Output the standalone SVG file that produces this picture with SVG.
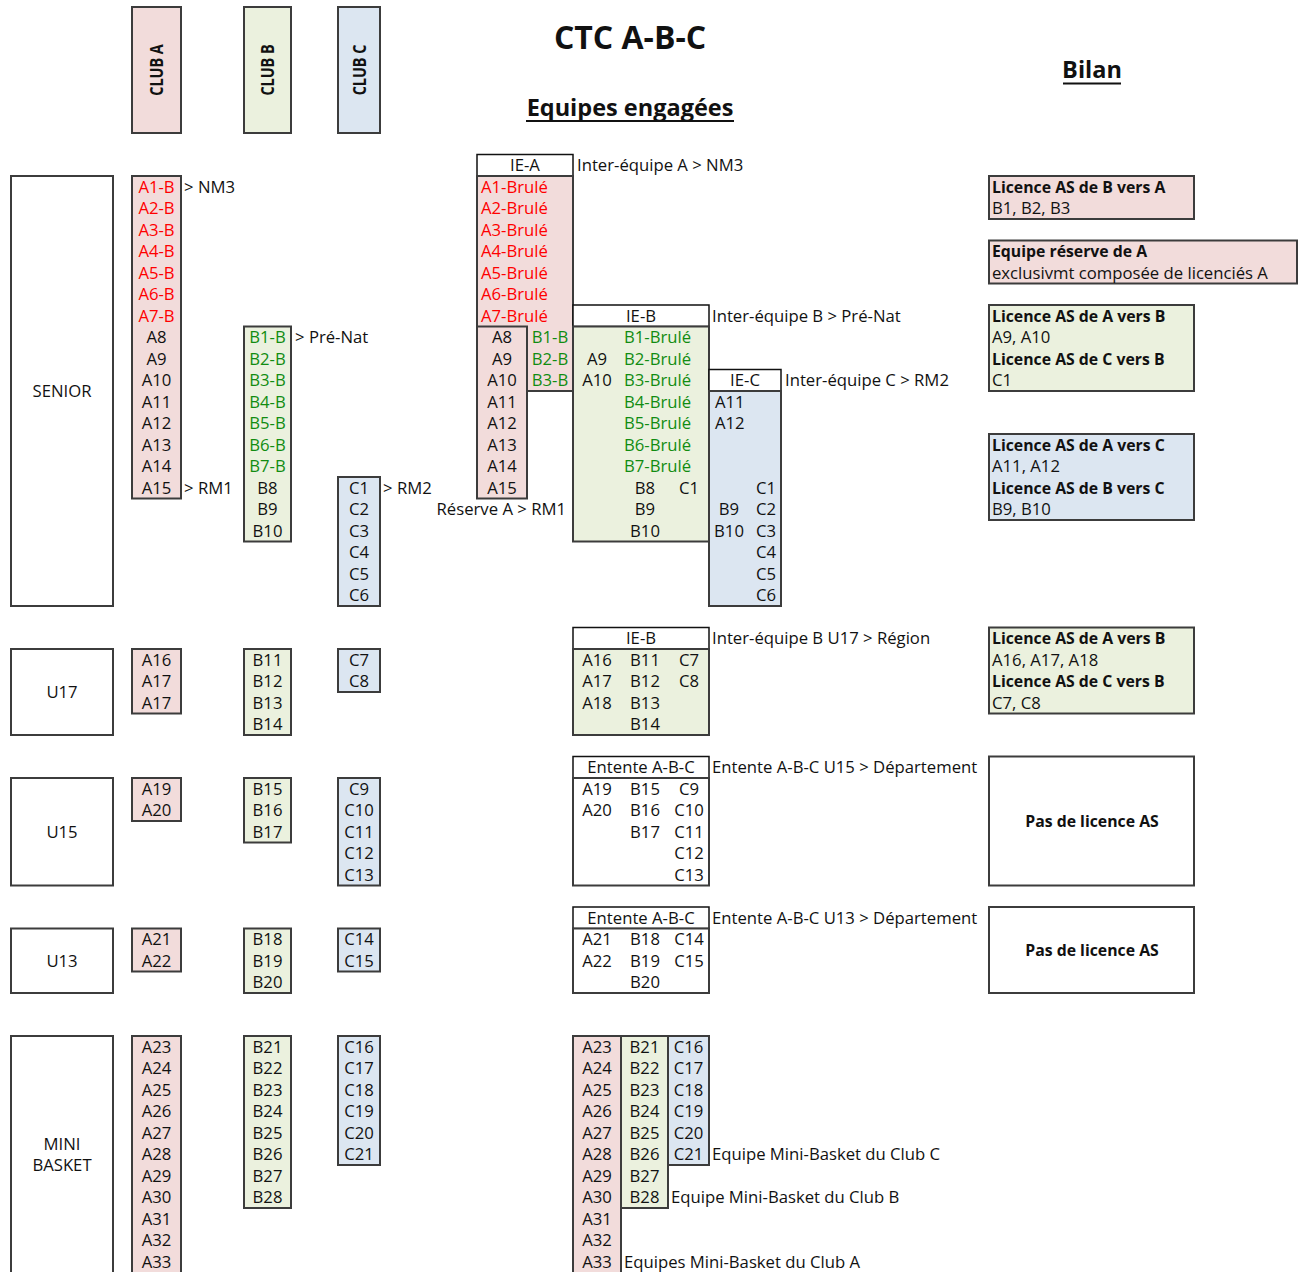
<svg xmlns="http://www.w3.org/2000/svg" width="1306" height="1272" viewBox="0 0 1306 1272">
<style>
text{font-family:"Open Sans","Liberation Sans",sans-serif;font-size:16.7px;fill:#111}
.c{text-anchor:middle}
.e{text-anchor:end}
.r{fill:#FF0000}
.g{fill:#118C11}
.b{font-weight:bold;font-size:15.8px}
.pk{fill:#F2DCDB;stroke:#3c3c3c;stroke-width:2}
.gr{fill:#EBF1DE;stroke:#3c3c3c;stroke-width:2}
.bl{fill:#DCE6F1;stroke:#3c3c3c;stroke-width:2}
.wh{fill:#FFFFFF;stroke:#3c3c3c;stroke-width:2}
.hd{fill:#FFFFFF;stroke:#111;stroke-width:1.5}
.ln{fill:none;stroke:#3c3c3c;stroke-width:2}
.title{font-weight:bold;font-size:32px}
.sub{font-weight:bold;font-size:23.5px}
.club{font-weight:bold;font-size:18px}
</style>

<g id="titles">
<text class="title c" x="630" y="49">CTC A-B-C</text>
<text class="sub c" x="630" y="116">Equipes engagées</text>
<line x1="526" y1="121" x2="734" y2="121" stroke="#111" stroke-width="2"/>
<text class="sub c" x="1092" y="78">Bilan</text>
<line x1="1063" y1="83.5" x2="1121" y2="83.5" stroke="#111" stroke-width="2"/>
</g>

<g id="club-a-header">
<rect class="pk" x="132" y="7" width="49" height="126"/>
<text class="club c" transform="translate(163,70) rotate(-90) scale(0.8,1)">CLUB A</text>
</g>
<g id="club-b-header">
<rect class="gr" x="244" y="7" width="47" height="126"/>
<text class="club c" transform="translate(274,70) rotate(-90) scale(0.8,1)">CLUB B</text>
</g>
<g id="club-c-header">
<rect class="bl" x="338" y="7" width="42" height="126"/>
<text class="club c" transform="translate(366,70) rotate(-90) scale(0.8,1)">CLUB C</text>
</g>

<g id="cat-senior">
<rect class="wh" x="11" y="176" width="102" height="430"/>
<text class="c" x="62" y="397">SENIOR</text>
</g>
<g id="cat-u17">
<rect class="wh" x="11" y="649" width="102" height="86"/>
<text class="c" x="62" y="698">U17</text>
</g>
<g id="cat-u15">
<rect class="wh" x="11" y="778" width="102" height="107.5"/>
<text class="c" x="62" y="838">U15</text>
</g>
<g id="cat-u13">
<rect class="wh" x="11" y="928.5" width="102" height="64.5"/>
<text class="c" x="62" y="967">U13</text>
</g>
<g id="cat-mini">
<rect class="wh" x="11" y="1036" width="102" height="260"/>
<text class="c" x="62" y="1150">MINI</text>
<text class="c" x="62" y="1171">BASKET</text>
</g>

<g id="senior-a">
<rect class="pk" x="132" y="176" width="49" height="322.5"/>
<text class="c r" x="156.5" y="192.6">A1-B</text>
<text class="c r" x="156.5" y="214.1">A2-B</text>
<text class="c r" x="156.5" y="235.6">A3-B</text>
<text class="c r" x="156.5" y="257.1">A4-B</text>
<text class="c r" x="156.5" y="278.6">A5-B</text>
<text class="c r" x="156.5" y="300.1">A6-B</text>
<text class="c r" x="156.5" y="321.6">A7-B</text>
<text class="c" x="156.5" y="343.1">A8</text>
<text class="c" x="156.5" y="364.6">A9</text>
<text class="c" x="156.5" y="386.1">A10</text>
<text class="c" x="156.5" y="407.6">A11</text>
<text class="c" x="156.5" y="429.1">A12</text>
<text class="c" x="156.5" y="450.6">A13</text>
<text class="c" x="156.5" y="472.1">A14</text>
<text class="c" x="156.5" y="493.6">A15</text>
<text x="184" y="192.6">&gt; NM3</text>
<text x="184" y="493.6">&gt; RM1</text>
</g>
<g id="senior-b">
<rect class="gr" x="244" y="326.5" width="47" height="215"/>
<text class="c g" x="267.5" y="343.1">B1-B</text>
<text class="c g" x="267.5" y="364.6">B2-B</text>
<text class="c g" x="267.5" y="386.1">B3-B</text>
<text class="c g" x="267.5" y="407.6">B4-B</text>
<text class="c g" x="267.5" y="429.1">B5-B</text>
<text class="c g" x="267.5" y="450.6">B6-B</text>
<text class="c g" x="267.5" y="472.1">B7-B</text>
<text class="c" x="267.5" y="493.6">B8</text>
<text class="c" x="267.5" y="515.1">B9</text>
<text class="c" x="267.5" y="536.6">B10</text>
<text x="295" y="343.1">&gt; Pré-Nat</text>
</g>
<g id="senior-c">
<rect class="bl" x="338" y="477" width="42" height="129"/>
<text class="c" x="359" y="493.6">C1</text>
<text class="c" x="359" y="515.1">C2</text>
<text class="c" x="359" y="536.6">C3</text>
<text class="c" x="359" y="558.1">C4</text>
<text class="c" x="359" y="579.6">C5</text>
<text class="c" x="359" y="601.1">C6</text>
<text x="383" y="493.6">&gt; RM2</text>
</g>

<g id="ie-a">
<rect class="hd" x="477" y="154.5" width="96" height="21.5"/>
<text class="c" x="525" y="171.1">IE-A</text>
<polygon class="pk" points="477,176 573,176 573,391 527,391 527,498.5 477,498.5"/>
<polyline class="ln" points="477,326.5 527,326.5 527,391"/>
<text class="r" x="481" y="192.6">A1-Brulé</text>
<text class="r" x="481" y="214.1">A2-Brulé</text>
<text class="r" x="481" y="235.6">A3-Brulé</text>
<text class="r" x="481" y="257.1">A4-Brulé</text>
<text class="r" x="481" y="278.6">A5-Brulé</text>
<text class="r" x="481" y="300.1">A6-Brulé</text>
<text class="r" x="481" y="321.6">A7-Brulé</text>
<text class="c" x="502" y="343.1">A8</text>
<text class="c" x="502" y="364.6">A9</text>
<text class="c" x="502" y="386.1">A10</text>
<text class="c" x="502" y="407.6">A11</text>
<text class="c" x="502" y="429.1">A12</text>
<text class="c" x="502" y="450.6">A13</text>
<text class="c" x="502" y="472.1">A14</text>
<text class="c" x="502" y="493.6">A15</text>
<text class="c g" x="550" y="343.1">B1-B</text>
<text class="c g" x="550" y="364.6">B2-B</text>
<text class="c g" x="550" y="386.1">B3-B</text>
<text x="577" y="171.1">Inter-équipe A &gt; NM3</text>
<text class="e" x="566" y="515.1">Réserve A &gt; RM1</text>
</g>

<g id="ie-b">
<rect class="hd" x="573" y="305" width="136" height="21.5"/>
<text class="c" x="641" y="321.6">IE-B</text>
<rect class="gr" x="573" y="326.5" width="136" height="215"/>
<text class="g" x="624" y="343.1">B1-Brulé</text>
<text class="g" x="624" y="364.6">B2-Brulé</text>
<text class="g" x="624" y="386.1">B3-Brulé</text>
<text class="g" x="624" y="407.6">B4-Brulé</text>
<text class="g" x="624" y="429.1">B5-Brulé</text>
<text class="g" x="624" y="450.6">B6-Brulé</text>
<text class="g" x="624" y="472.1">B7-Brulé</text>
<text class="c" x="597" y="364.6">A9</text>
<text class="c" x="597" y="386.1">A10</text>
<text class="c" x="645" y="493.6">B8</text>
<text class="c" x="689" y="493.6">C1</text>
<text class="c" x="645" y="515.1">B9</text>
<text class="c" x="645" y="536.6">B10</text>
<text x="712" y="321.6">Inter-équipe B &gt; Pré-Nat</text>
</g>

<g id="ie-c">
<rect class="hd" x="709" y="369.5" width="72" height="21.5"/>
<text class="c" x="745" y="386.1">IE-C</text>
<rect class="bl" x="709" y="391" width="72" height="215"/>
<text x="715" y="407.6">A11</text>
<text x="715" y="429.1">A12</text>
<text class="c" x="766" y="493.6">C1</text>
<text class="c" x="729" y="515.1">B9</text>
<text class="c" x="766" y="515.1">C2</text>
<text class="c" x="729" y="536.6">B10</text>
<text class="c" x="766" y="536.6">C3</text>
<text class="c" x="766" y="558.1">C4</text>
<text class="c" x="766" y="579.6">C5</text>
<text class="c" x="766" y="601.1">C6</text>
<text x="785" y="386.1">Inter-équipe C &gt; RM2</text>
</g>

<g id="bilan-1">
<rect class="pk" x="989" y="176" width="205" height="43"/>
<text class="b" x="992" y="192.6">Licence AS de B vers A</text>
<text x="992" y="214.1">B1, B2, B3</text>
</g>
<g id="bilan-2">
<rect class="pk" x="989" y="240.5" width="308" height="43"/>
<text class="b" x="992" y="257.1">Equipe réserve de A</text>
<text x="992" y="278.6">exclusivmt composée de licenciés A</text>
</g>
<g id="bilan-3">
<rect class="gr" x="989" y="305" width="205" height="86"/>
<text class="b" x="992" y="321.6">Licence AS de A vers B</text>
<text x="992" y="343.1">A9, A10</text>
<text class="b" x="992" y="364.6">Licence AS de C vers B</text>
<text x="992" y="386.1">C1</text>
</g>
<g id="bilan-4">
<rect class="bl" x="989" y="434" width="205" height="86"/>
<text class="b" x="992" y="450.6">Licence AS de A vers C</text>
<text x="992" y="472.1">A11, A12</text>
<text class="b" x="992" y="493.6">Licence AS de B vers C</text>
<text x="992" y="515.1">B9, B10</text>
</g>

<g id="u17-a">
<rect class="pk" x="132" y="649" width="49" height="64.5"/>
<text class="c" x="156.5" y="665.6">A16</text>
<text class="c" x="156.5" y="687.1">A17</text>
<text class="c" x="156.5" y="708.6">A17</text>
</g>
<g id="u17-b">
<rect class="gr" x="244" y="649" width="47" height="86"/>
<text class="c" x="267.5" y="665.6">B11</text>
<text class="c" x="267.5" y="687.1">B12</text>
<text class="c" x="267.5" y="708.6">B13</text>
<text class="c" x="267.5" y="730.1">B14</text>
</g>
<g id="u17-c">
<rect class="bl" x="338" y="649" width="42" height="43"/>
<text class="c" x="359" y="665.6">C7</text>
<text class="c" x="359" y="687.1">C8</text>
</g>
<g id="ie-b-u17">
<rect class="hd" x="573" y="627.5" width="136" height="21.5"/>
<text class="c" x="641" y="644.1">IE-B</text>
<rect class="gr" x="573" y="649" width="136" height="86"/>
<text class="c" x="597" y="665.6">A16</text>
<text class="c" x="645" y="665.6">B11</text>
<text class="c" x="689" y="665.6">C7</text>
<text class="c" x="597" y="687.1">A17</text>
<text class="c" x="645" y="687.1">B12</text>
<text class="c" x="689" y="687.1">C8</text>
<text class="c" x="597" y="708.6">A18</text>
<text class="c" x="645" y="708.6">B13</text>
<text class="c" x="645" y="730.1">B14</text>
<text x="712" y="644.1">Inter-équipe B U17 &gt; Région</text>
</g>
<g id="bilan-u17">
<rect class="gr" x="989" y="627.5" width="205" height="86"/>
<text class="b" x="992" y="644.1">Licence AS de A vers B</text>
<text x="992" y="665.6">A16, A17, A18</text>
<text class="b" x="992" y="687.1">Licence AS de C vers B</text>
<text x="992" y="708.6">C7, C8</text>
</g>

<g id="u15-a">
<rect class="pk" x="132" y="778" width="49" height="43"/>
<text class="c" x="156.5" y="794.6">A19</text>
<text class="c" x="156.5" y="816.1">A20</text>
</g>
<g id="u15-b">
<rect class="gr" x="244" y="778" width="47" height="64.5"/>
<text class="c" x="267.5" y="794.6">B15</text>
<text class="c" x="267.5" y="816.1">B16</text>
<text class="c" x="267.5" y="837.6">B17</text>
</g>
<g id="u15-c">
<rect class="bl" x="338" y="778" width="42" height="107.5"/>
<text class="c" x="359" y="794.6">C9</text>
<text class="c" x="359" y="816.1">C10</text>
<text class="c" x="359" y="837.6">C11</text>
<text class="c" x="359" y="859.1">C12</text>
<text class="c" x="359" y="880.6">C13</text>
</g>
<g id="entente-u15">
<rect class="hd" x="573" y="756.5" width="136" height="21.5"/>
<text class="c" x="641" y="773.1">Entente A-B-C</text>
<rect class="wh" x="573" y="778" width="136" height="107.5"/>
<text class="c" x="597" y="794.6">A19</text>
<text class="c" x="645" y="794.6">B15</text>
<text class="c" x="689" y="794.6">C9</text>
<text class="c" x="597" y="816.1">A20</text>
<text class="c" x="645" y="816.1">B16</text>
<text class="c" x="689" y="816.1">C10</text>
<text class="c" x="645" y="837.6">B17</text>
<text class="c" x="689" y="837.6">C11</text>
<text class="c" x="689" y="859.1">C12</text>
<text class="c" x="689" y="880.6">C13</text>
<text x="712" y="773.1">Entente A-B-C U15 &gt; Département</text>
</g>
<g id="bilan-u15">
<rect class="wh" x="989" y="756.5" width="205" height="129"/>
<text class="b c" x="1092" y="826.5">Pas de licence AS</text>
</g>

<g id="u13-a">
<rect class="pk" x="132" y="928.5" width="49" height="43"/>
<text class="c" x="156.5" y="945.1">A21</text>
<text class="c" x="156.5" y="966.6">A22</text>
</g>
<g id="u13-b">
<rect class="gr" x="244" y="928.5" width="47" height="64.5"/>
<text class="c" x="267.5" y="945.1">B18</text>
<text class="c" x="267.5" y="966.6">B19</text>
<text class="c" x="267.5" y="988.1">B20</text>
</g>
<g id="u13-c">
<rect class="bl" x="338" y="928.5" width="42" height="43"/>
<text class="c" x="359" y="945.1">C14</text>
<text class="c" x="359" y="966.6">C15</text>
</g>
<g id="entente-u13">
<rect class="hd" x="573" y="907" width="136" height="21.5"/>
<text class="c" x="641" y="923.6">Entente A-B-C</text>
<rect class="wh" x="573" y="928.5" width="136" height="64.5"/>
<text class="c" x="597" y="945.1">A21</text>
<text class="c" x="645" y="945.1">B18</text>
<text class="c" x="689" y="945.1">C14</text>
<text class="c" x="597" y="966.6">A22</text>
<text class="c" x="645" y="966.6">B19</text>
<text class="c" x="689" y="966.6">C15</text>
<text class="c" x="645" y="988.1">B20</text>
<text x="712" y="923.6">Entente A-B-C U13 &gt; Département</text>
</g>
<g id="bilan-u13">
<rect class="wh" x="989" y="907" width="205" height="86"/>
<text class="b c" x="1092" y="955.5">Pas de licence AS</text>
</g>

<g id="mini-a">
<rect class="pk" x="132" y="1036" width="49" height="260"/>
<text class="c" x="156.5" y="1052.6">A23</text>
<text class="c" x="156.5" y="1074.1">A24</text>
<text class="c" x="156.5" y="1095.6">A25</text>
<text class="c" x="156.5" y="1117.1">A26</text>
<text class="c" x="156.5" y="1138.6">A27</text>
<text class="c" x="156.5" y="1160.1">A28</text>
<text class="c" x="156.5" y="1181.6">A29</text>
<text class="c" x="156.5" y="1203.1">A30</text>
<text class="c" x="156.5" y="1224.6">A31</text>
<text class="c" x="156.5" y="1246.1">A32</text>
<text class="c" x="156.5" y="1267.6">A33</text>
</g>
<g id="mini-b">
<rect class="gr" x="244" y="1036" width="47" height="172"/>
<text class="c" x="267.5" y="1052.6">B21</text>
<text class="c" x="267.5" y="1074.1">B22</text>
<text class="c" x="267.5" y="1095.6">B23</text>
<text class="c" x="267.5" y="1117.1">B24</text>
<text class="c" x="267.5" y="1138.6">B25</text>
<text class="c" x="267.5" y="1160.1">B26</text>
<text class="c" x="267.5" y="1181.6">B27</text>
<text class="c" x="267.5" y="1203.1">B28</text>
</g>
<g id="mini-c">
<rect class="bl" x="338" y="1036" width="42" height="129"/>
<text class="c" x="359" y="1052.6">C16</text>
<text class="c" x="359" y="1074.1">C17</text>
<text class="c" x="359" y="1095.6">C18</text>
<text class="c" x="359" y="1117.1">C19</text>
<text class="c" x="359" y="1138.6">C20</text>
<text class="c" x="359" y="1160.1">C21</text>
</g>

<g id="mini-teams">
<rect class="pk" x="573" y="1036" width="48" height="260"/>
<rect class="gr" x="621" y="1036" width="47" height="172"/>
<rect class="bl" x="668" y="1036" width="41" height="129"/>
<text class="c" x="597" y="1052.6">A23</text>
<text class="c" x="597" y="1074.1">A24</text>
<text class="c" x="597" y="1095.6">A25</text>
<text class="c" x="597" y="1117.1">A26</text>
<text class="c" x="597" y="1138.6">A27</text>
<text class="c" x="597" y="1160.1">A28</text>
<text class="c" x="597" y="1181.6">A29</text>
<text class="c" x="597" y="1203.1">A30</text>
<text class="c" x="597" y="1224.6">A31</text>
<text class="c" x="597" y="1246.1">A32</text>
<text class="c" x="597" y="1267.6">A33</text>
<text class="c" x="644.5" y="1052.6">B21</text>
<text class="c" x="644.5" y="1074.1">B22</text>
<text class="c" x="644.5" y="1095.6">B23</text>
<text class="c" x="644.5" y="1117.1">B24</text>
<text class="c" x="644.5" y="1138.6">B25</text>
<text class="c" x="644.5" y="1160.1">B26</text>
<text class="c" x="644.5" y="1181.6">B27</text>
<text class="c" x="644.5" y="1203.1">B28</text>
<text class="c" x="688.5" y="1052.6">C16</text>
<text class="c" x="688.5" y="1074.1">C17</text>
<text class="c" x="688.5" y="1095.6">C18</text>
<text class="c" x="688.5" y="1117.1">C19</text>
<text class="c" x="688.5" y="1138.6">C20</text>
<text class="c" x="688.5" y="1160.1">C21</text>
<text x="712" y="1160.1">Equipe Mini-Basket du Club C</text>
<text x="671" y="1203.1">Equipe Mini-Basket du Club B</text>
<text x="624" y="1267.6">Equipes Mini-Basket du Club A</text>
</g>
</svg>
